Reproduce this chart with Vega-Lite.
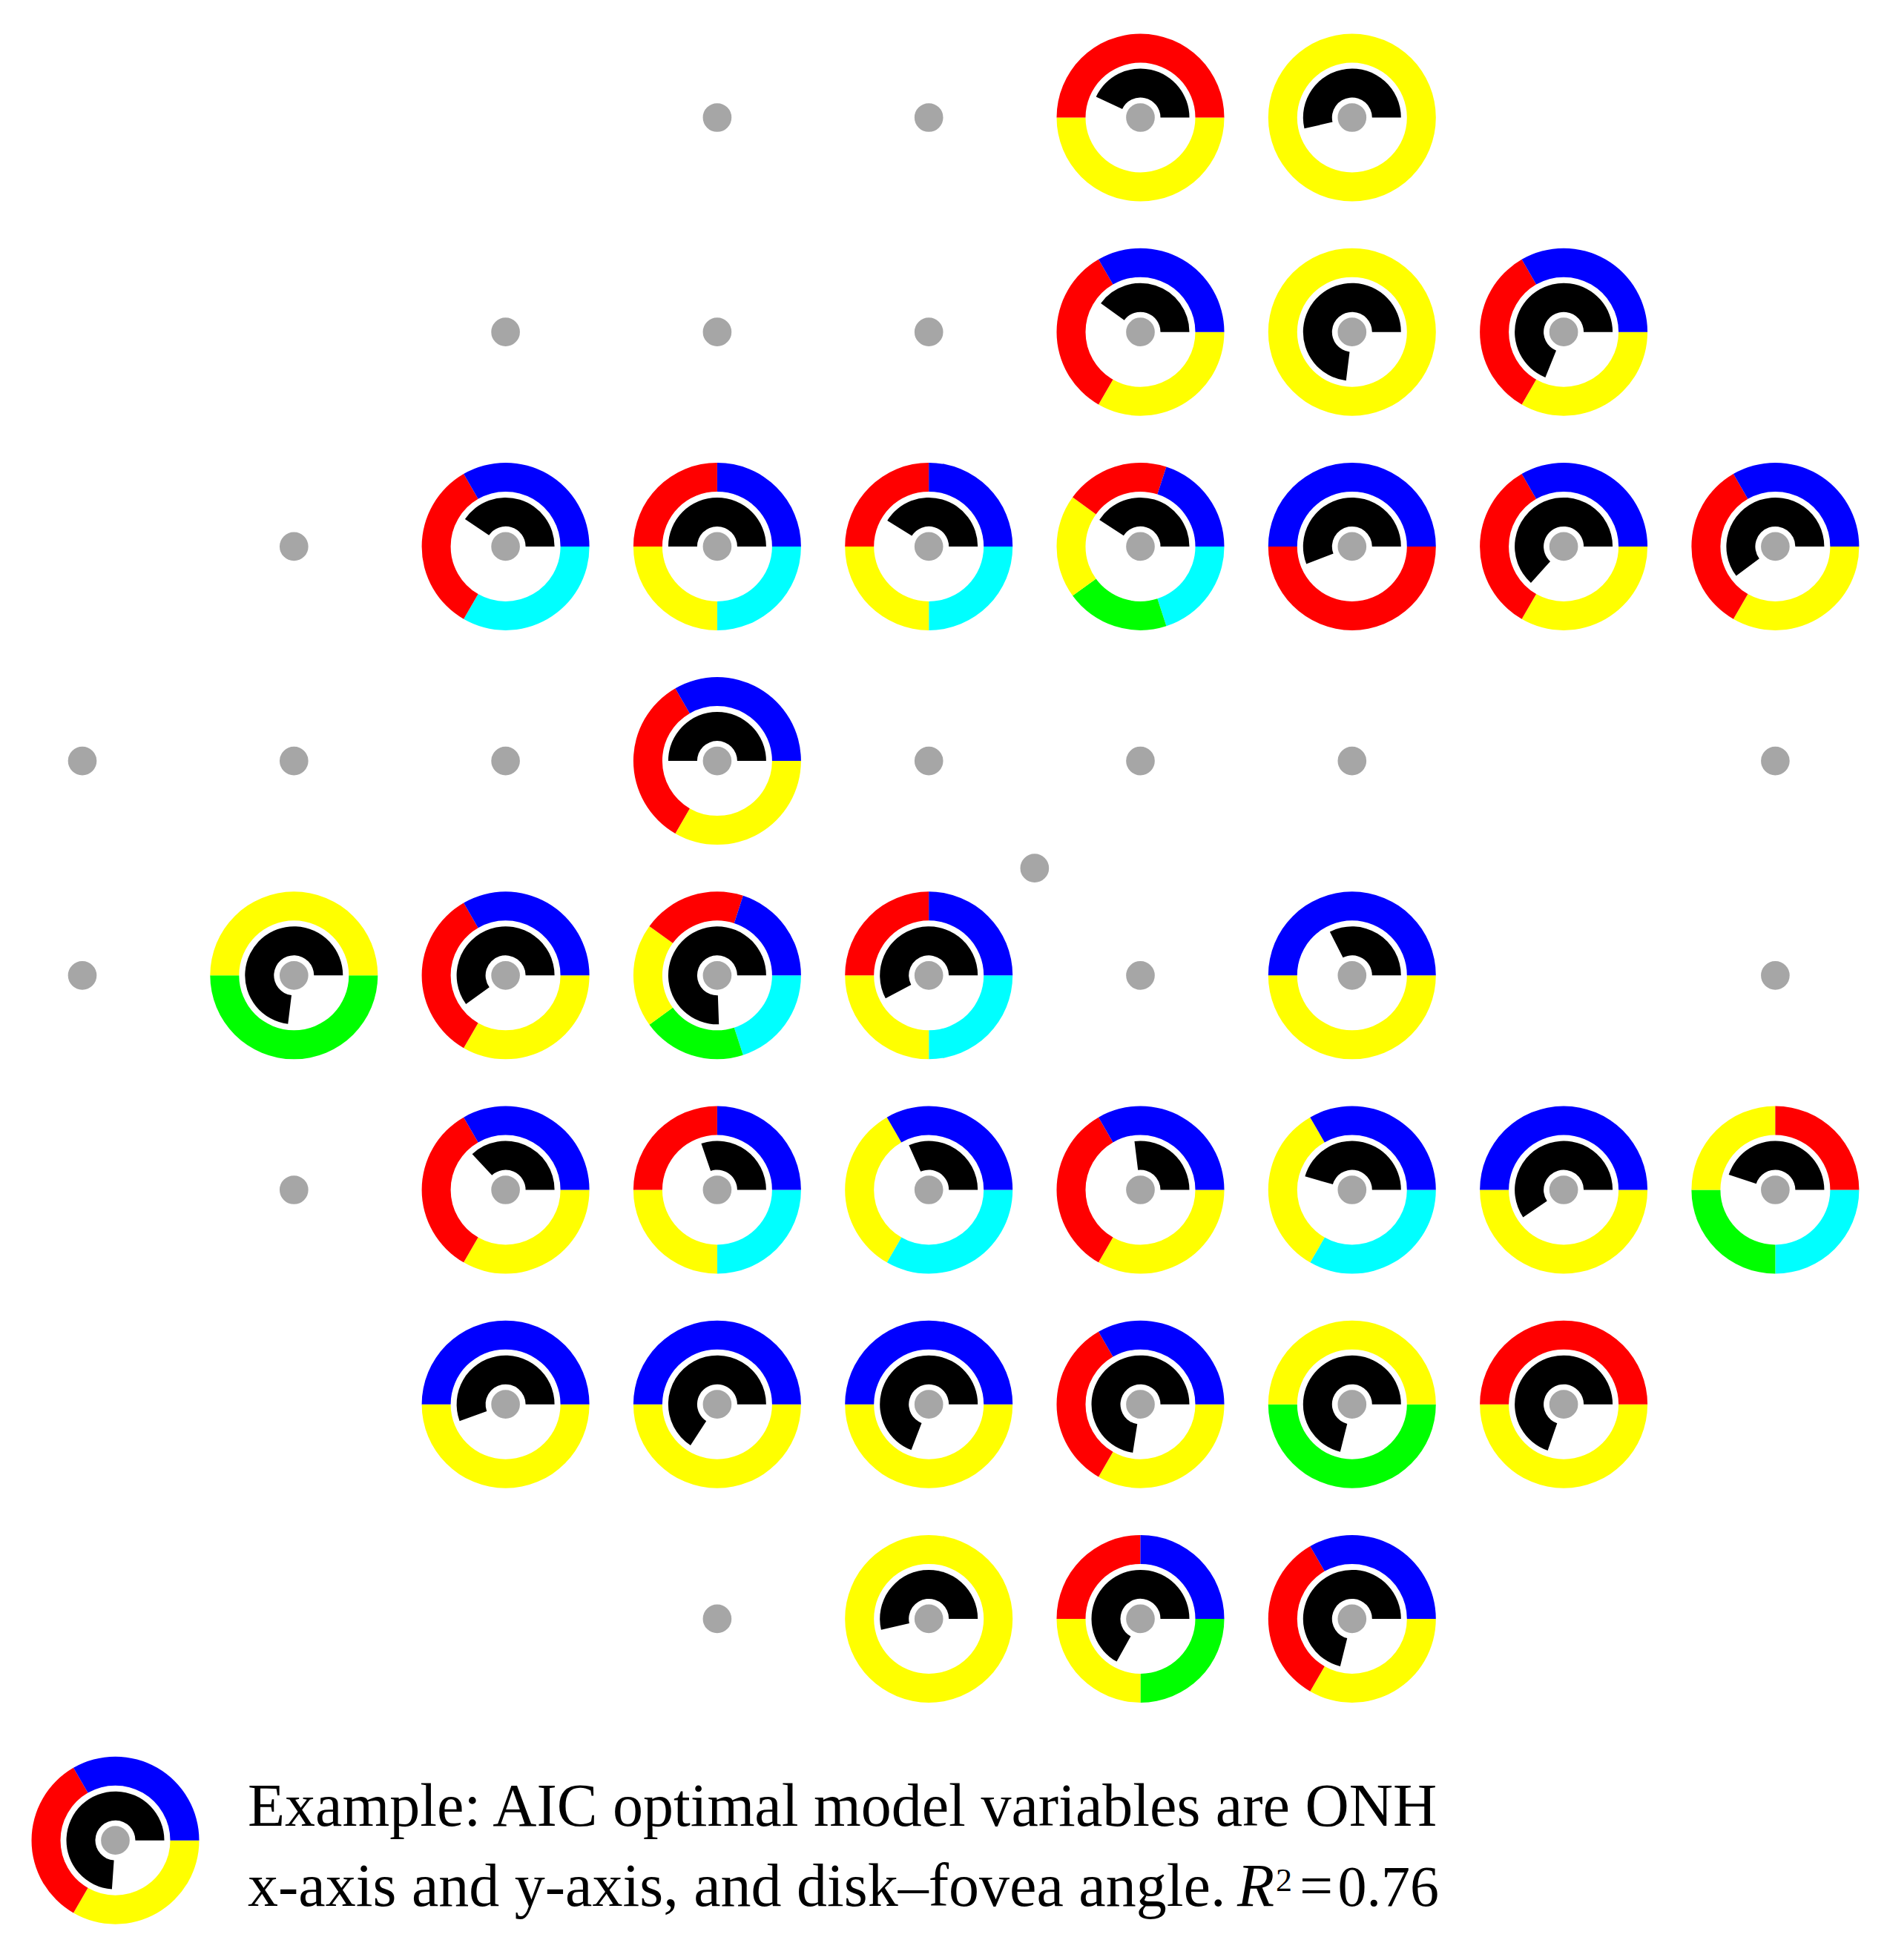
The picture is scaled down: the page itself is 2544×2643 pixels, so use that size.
{
  "$schema": "https://vega.github.io/schema/vega-lite/v6.json",
  "width": 2544,
  "height": 2643,
  "autosize": {"type": "none"},
  "padding": 0,
  "background": "white",
  "config": {"view": {"stroke": null}},
  "datasets": {
    "rings": [
      {"c":5,"r":0,"v":"yellow","t0":90,"t1":270},{"c":5,"r":0,"v":"red","t0":270,"t1":450},
      {"c":6,"r":0,"v":"yellow","t0":0,"t1":360},
      {"c":5,"r":1,"v":"yellow","t0":90,"t1":210},{"c":5,"r":1,"v":"red","t0":210,"t1":330},{"c":5,"r":1,"v":"blue","t0":330,"t1":450},
      {"c":6,"r":1,"v":"yellow","t0":0,"t1":360},
      {"c":7,"r":1,"v":"yellow","t0":90,"t1":210},{"c":7,"r":1,"v":"red","t0":210,"t1":330},{"c":7,"r":1,"v":"blue","t0":330,"t1":450},
      {"c":2,"r":2,"v":"cyan","t0":90,"t1":210},{"c":2,"r":2,"v":"red","t0":210,"t1":330},{"c":2,"r":2,"v":"blue","t0":330,"t1":450},
      {"c":3,"r":2,"v":"cyan","t0":90,"t1":180},{"c":3,"r":2,"v":"yellow","t0":180,"t1":270},{"c":3,"r":2,"v":"red","t0":270,"t1":360},{"c":3,"r":2,"v":"blue","t0":360,"t1":450},
      {"c":4,"r":2,"v":"cyan","t0":90,"t1":180},{"c":4,"r":2,"v":"yellow","t0":180,"t1":270},{"c":4,"r":2,"v":"red","t0":270,"t1":360},{"c":4,"r":2,"v":"blue","t0":360,"t1":450},
      {"c":5,"r":2,"v":"cyan","t0":90,"t1":162},{"c":5,"r":2,"v":"green","t0":162,"t1":234},{"c":5,"r":2,"v":"yellow","t0":234,"t1":306},{"c":5,"r":2,"v":"red","t0":306,"t1":378},{"c":5,"r":2,"v":"blue","t0":378,"t1":450},
      {"c":6,"r":2,"v":"red","t0":90,"t1":270},{"c":6,"r":2,"v":"blue","t0":270,"t1":450},
      {"c":7,"r":2,"v":"yellow","t0":90,"t1":210},{"c":7,"r":2,"v":"red","t0":210,"t1":330},{"c":7,"r":2,"v":"blue","t0":330,"t1":450},
      {"c":8,"r":2,"v":"yellow","t0":90,"t1":210},{"c":8,"r":2,"v":"red","t0":210,"t1":330},{"c":8,"r":2,"v":"blue","t0":330,"t1":450},
      {"c":3,"r":3,"v":"yellow","t0":90,"t1":210},{"c":3,"r":3,"v":"red","t0":210,"t1":330},{"c":3,"r":3,"v":"blue","t0":330,"t1":450},
      {"c":1,"r":4,"v":"green","t0":90,"t1":270},{"c":1,"r":4,"v":"yellow","t0":270,"t1":450},
      {"c":2,"r":4,"v":"yellow","t0":90,"t1":210},{"c":2,"r":4,"v":"red","t0":210,"t1":330},{"c":2,"r":4,"v":"blue","t0":330,"t1":450},
      {"c":3,"r":4,"v":"cyan","t0":90,"t1":162},{"c":3,"r":4,"v":"green","t0":162,"t1":234},{"c":3,"r":4,"v":"yellow","t0":234,"t1":306},{"c":3,"r":4,"v":"red","t0":306,"t1":378},{"c":3,"r":4,"v":"blue","t0":378,"t1":450},
      {"c":4,"r":4,"v":"cyan","t0":90,"t1":180},{"c":4,"r":4,"v":"yellow","t0":180,"t1":270},{"c":4,"r":4,"v":"red","t0":270,"t1":360},{"c":4,"r":4,"v":"blue","t0":360,"t1":450},
      {"c":6,"r":4,"v":"yellow","t0":90,"t1":270},{"c":6,"r":4,"v":"blue","t0":270,"t1":450},
      {"c":2,"r":5,"v":"yellow","t0":90,"t1":210},{"c":2,"r":5,"v":"red","t0":210,"t1":330},{"c":2,"r":5,"v":"blue","t0":330,"t1":450},
      {"c":3,"r":5,"v":"cyan","t0":90,"t1":180},{"c":3,"r":5,"v":"yellow","t0":180,"t1":270},{"c":3,"r":5,"v":"red","t0":270,"t1":360},{"c":3,"r":5,"v":"blue","t0":360,"t1":450},
      {"c":4,"r":5,"v":"cyan","t0":90,"t1":210},{"c":4,"r":5,"v":"yellow","t0":210,"t1":330},{"c":4,"r":5,"v":"blue","t0":330,"t1":450},
      {"c":5,"r":5,"v":"yellow","t0":90,"t1":210},{"c":5,"r":5,"v":"red","t0":210,"t1":330},{"c":5,"r":5,"v":"blue","t0":330,"t1":450},
      {"c":6,"r":5,"v":"cyan","t0":90,"t1":210},{"c":6,"r":5,"v":"yellow","t0":210,"t1":330},{"c":6,"r":5,"v":"blue","t0":330,"t1":450},
      {"c":7,"r":5,"v":"yellow","t0":90,"t1":270},{"c":7,"r":5,"v":"blue","t0":270,"t1":450},
      {"c":8,"r":5,"v":"cyan","t0":90,"t1":180},{"c":8,"r":5,"v":"green","t0":180,"t1":270},{"c":8,"r":5,"v":"yellow","t0":270,"t1":360},{"c":8,"r":5,"v":"red","t0":360,"t1":450},
      {"c":2,"r":6,"v":"yellow","t0":90,"t1":270},{"c":2,"r":6,"v":"blue","t0":270,"t1":450},
      {"c":3,"r":6,"v":"yellow","t0":90,"t1":270},{"c":3,"r":6,"v":"blue","t0":270,"t1":450},
      {"c":4,"r":6,"v":"yellow","t0":90,"t1":270},{"c":4,"r":6,"v":"blue","t0":270,"t1":450},
      {"c":5,"r":6,"v":"yellow","t0":90,"t1":210},{"c":5,"r":6,"v":"red","t0":210,"t1":330},{"c":5,"r":6,"v":"blue","t0":330,"t1":450},
      {"c":6,"r":6,"v":"green","t0":90,"t1":270},{"c":6,"r":6,"v":"yellow","t0":270,"t1":450},
      {"c":7,"r":6,"v":"yellow","t0":90,"t1":270},{"c":7,"r":6,"v":"red","t0":270,"t1":450},
      {"c":4,"r":7,"v":"yellow","t0":0,"t1":360},
      {"c":5,"r":7,"v":"green","t0":90,"t1":180},{"c":5,"r":7,"v":"yellow","t0":180,"t1":270},{"c":5,"r":7,"v":"red","t0":270,"t1":360},{"c":5,"r":7,"v":"blue","t0":360,"t1":450},
      {"c":6,"r":7,"v":"yellow","t0":90,"t1":210},{"c":6,"r":7,"v":"red","t0":210,"t1":330},{"c":6,"r":7,"v":"blue","t0":330,"t1":450},
      {"c":0.156,"r":8.033,"v":"yellow","t0":90,"t1":210},{"c":0.156,"r":8.033,"v":"red","t0":210,"t1":330},{"c":0.156,"r":8.033,"v":"blue","t0":330,"t1":450}
    ],
    "black": [
      {"c":5,"r":0,"b0":295,"b1":450},{"c":6,"r":0,"b0":257,"b1":450},
      {"c":5,"r":1,"b0":306,"b1":450},{"c":6,"r":1,"b0":187,"b1":450},{"c":7,"r":1,"b0":202,"b1":450},
      {"c":2,"r":2,"b0":304,"b1":450},{"c":3,"r":2,"b0":270,"b1":450},{"c":4,"r":2,"b0":302,"b1":450},{"c":5,"r":2,"b0":303,"b1":450},{"c":6,"r":2,"b0":249,"b1":450},{"c":7,"r":2,"b0":222,"b1":450},{"c":8,"r":2,"b0":233,"b1":450},
      {"c":3,"r":3,"b0":270,"b1":450},
      {"c":1,"r":4,"b0":187,"b1":450},{"c":2,"r":4,"b0":234,"b1":450},{"c":3,"r":4,"b0":178,"b1":450},{"c":4,"r":4,"b0":242,"b1":450},{"c":6,"r":4,"b0":333,"b1":450},
      {"c":2,"r":5,"b0":317,"b1":450},{"c":3,"r":5,"b0":341,"b1":450},{"c":4,"r":5,"b0":336,"b1":450},{"c":5,"r":5,"b0":353,"b1":450},{"c":6,"r":5,"b0":286,"b1":450},{"c":7,"r":5,"b0":236,"b1":450},{"c":8,"r":5,"b0":288,"b1":450},
      {"c":2,"r":6,"b0":250,"b1":450},{"c":3,"r":6,"b0":213,"b1":450},{"c":4,"r":6,"b0":201,"b1":450},{"c":5,"r":6,"b0":189,"b1":450},{"c":6,"r":6,"b0":194,"b1":450},{"c":7,"r":6,"b0":199,"b1":450},
      {"c":4,"r":7,"b0":257,"b1":450},{"c":5,"r":7,"b0":209,"b1":450},{"c":6,"r":7,"b0":194,"b1":450},
      {"c":0.156,"r":8.033,"b0":184,"b1":450}
    ],
    "dots": [
      {"c":3,"r":0},{"c":4,"r":0},{"c":5,"r":0},{"c":6,"r":0},
      {"c":2,"r":1},{"c":3,"r":1},{"c":4,"r":1},{"c":5,"r":1},{"c":6,"r":1},{"c":7,"r":1},
      {"c":1,"r":2},{"c":2,"r":2},{"c":3,"r":2},{"c":4,"r":2},{"c":5,"r":2},{"c":6,"r":2},{"c":7,"r":2},{"c":8,"r":2},
      {"c":0,"r":3},{"c":1,"r":3},{"c":2,"r":3},{"c":3,"r":3},{"c":4,"r":3},{"c":5,"r":3},{"c":6,"r":3},{"c":8,"r":3},
      {"c":4.5,"r":3.5},
      {"c":0,"r":4},{"c":1,"r":4},{"c":2,"r":4},{"c":3,"r":4},{"c":4,"r":4},{"c":5,"r":4},{"c":6,"r":4},{"c":8,"r":4},
      {"c":1,"r":5},{"c":2,"r":5},{"c":3,"r":5},{"c":4,"r":5},{"c":5,"r":5},{"c":6,"r":5},{"c":7,"r":5},{"c":8,"r":5},
      {"c":2,"r":6},{"c":3,"r":6},{"c":4,"r":6},{"c":5,"r":6},{"c":6,"r":6},{"c":7,"r":6},
      {"c":3,"r":7},{"c":4,"r":7},{"c":5,"r":7},{"c":6,"r":7},
      {"c":0.156,"r":8.033}
    ]
  },
  "layer": [
    {
      "data": {"name": "rings"},
      "mark": {"type": "arc", "radius": 113, "radius2": 74},
      "encoding": {
        "x": {"field": "c", "type": "quantitative", "scale": {"domain": [-0.38906, 8.52787], "nice": false, "zero": false}, "axis": null},
        "y": {"field": "r", "type": "quantitative", "scale": {"domain": [-0.54806, 8.59094], "nice": false, "zero": false, "reverse": true}, "axis": null},
        "theta": {"field": "t0", "type": "quantitative", "stack": null, "scale": {"domain": [0, 360], "range": [0, 6.283185307179586], "nice": false, "zero": false}},
        "theta2": {"field": "t1"},
        "color": {"field": "v", "type": "nominal", "legend": null, "scale": {"domain": ["cyan", "green", "yellow", "red", "blue"], "range": ["#00FFFF", "#00FF00", "#FFFF00", "#FF0000", "#0000FF"]}}
      }
    },
    {
      "data": {"name": "black"},
      "mark": {"type": "arc", "radius": 66, "radius2": 27, "color": "#000000"},
      "encoding": {
        "x": {"field": "c", "type": "quantitative", "scale": {"domain": [-0.38906, 8.52787], "nice": false, "zero": false}, "axis": null},
        "y": {"field": "r", "type": "quantitative", "scale": {"domain": [-0.54806, 8.59094], "nice": false, "zero": false, "reverse": true}, "axis": null},
        "theta": {"field": "b0", "type": "quantitative", "stack": null, "scale": {"domain": [0, 360], "range": [0, 6.283185307179586], "nice": false, "zero": false}},
        "theta2": {"field": "b1"}
      }
    },
    {
      "data": {"name": "dots"},
      "mark": {"type": "circle", "size": 1735, "color": "#A6A6A6", "opacity": 1, "stroke": "#FFFFFF", "strokeWidth": 3},
      "encoding": {
        "x": {"field": "c", "type": "quantitative", "scale": {"domain": [-0.38906, 8.52787], "nice": false, "zero": false}, "axis": null},
        "y": {"field": "r", "type": "quantitative", "scale": {"domain": [-0.54806, 8.59094], "nice": false, "zero": false, "reverse": true}, "axis": null}
      }
    },
    {
      "data": {"values": [
        {"c": 0.7816, "r": 7.965, "t": "Example: AIC optimal model variables are ONH"},
        {"c": 0.7816, "r": 8.338, "t": "x-axis and y-axis, and disk\u2013fovea angle."}
      ]},
      "mark": {"type": "text", "align": "left", "baseline": "alphabetic", "font": "Liberation Serif", "fontSize": 82, "color": "#000000"},
      "encoding": {
        "x": {"field": "c", "type": "quantitative", "scale": {"domain": [-0.38906, 8.52787], "nice": false, "zero": false}, "axis": null},
        "y": {"field": "r", "type": "quantitative", "scale": {"domain": [-0.54806, 8.59094], "nice": false, "zero": false, "reverse": true}, "axis": null},
        "text": {"field": "t", "type": "nominal"}
      }
    },
    {
      "data": {"values": [{"c": 5.4573, "r": 8.338, "t": "R"}]},
      "mark": {"type": "text", "align": "left", "baseline": "alphabetic", "font": "Liberation Serif", "fontStyle": "italic", "fontSize": 82, "color": "#000000"},
      "encoding": {
        "x": {"field": "c", "type": "quantitative", "axis": null},
        "y": {"field": "r", "type": "quantitative", "axis": null},
        "text": {"field": "t", "type": "nominal"}
      }
    },
    {
      "data": {"values": [{"c": 5.6396, "r": 8.269, "t": "2"}]},
      "mark": {"type": "text", "align": "left", "baseline": "alphabetic", "font": "Liberation Serif", "fontSize": 44, "color": "#000000"},
      "encoding": {
        "x": {"field": "c", "type": "quantitative", "axis": null},
        "y": {"field": "r", "type": "quantitative", "axis": null},
        "text": {"field": "t", "type": "nominal"}
      }
    },
    {
      "data": {"values": [{"c": 5.7518, "r": 8.338, "t": "="}]},
      "mark": {"type": "text", "align": "left", "baseline": "alphabetic", "font": "Liberation Serif", "fontSize": 80, "color": "#000000"},
      "encoding": {
        "x": {"field": "c", "type": "quantitative", "axis": null},
        "y": {"field": "r", "type": "quantitative", "axis": null},
        "text": {"field": "t", "type": "nominal"}
      }
    },
    {
      "data": {"values": [{"c": 6.4108, "r": 8.338, "t": "0.76"}]},
      "mark": {"type": "text", "align": "right", "baseline": "alphabetic", "font": "Liberation Serif", "fontSize": 78, "color": "#000000"},
      "encoding": {
        "x": {"field": "c", "type": "quantitative", "axis": null},
        "y": {"field": "r", "type": "quantitative", "axis": null},
        "text": {"field": "t", "type": "nominal"}
      }
    }
  ]
}
